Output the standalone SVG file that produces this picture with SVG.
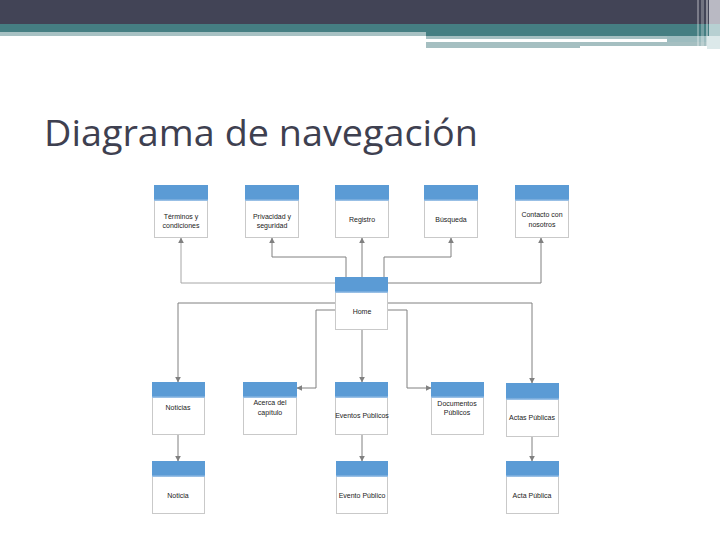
<svg xmlns="http://www.w3.org/2000/svg" width="720" height="540" viewBox="0 0 720 540">
<style>
.box{fill:#ffffff;stroke:#c9c9c9;stroke-width:1}
.hdr{fill:url(#hg)}
.lbl{font-family:"Liberation Sans",Arial,sans-serif;font-size:7px;fill:#222;text-anchor:middle}
.ln{fill:none;stroke:#808080;stroke-width:1}
.lt{stroke:#a6a6a6}
</style>
<defs>
<linearGradient id="hg" x1="0" y1="0" x2="0" y2="1">
<stop offset="0" stop-color="#5b9bd5"/>
<stop offset="0.85" stop-color="#5b9bd5"/>
<stop offset="1" stop-color="#a9c9ea"/>
</linearGradient>
<marker id="ah" viewBox="0 0 10 10" refX="9" refY="5" markerWidth="6" markerHeight="6" orient="auto" markerUnits="userSpaceOnUse">
<path d="M0,0 L10,5 L0,10 z" fill="#808080"/>
</marker>
</defs>
<rect width="720" height="540" fill="#ffffff"/>
<g id="header">
<rect x="0" y="0" width="720" height="24" fill="#424456"/>
<rect x="0" y="24" width="720" height="8" fill="#457e82"/>
<rect x="0" y="32" width="426" height="4" fill="#a7c1c3"/>
<rect x="426" y="32" width="294" height="4" fill="#457e82"/>
<rect x="426" y="36" width="241" height="3" fill="#a5bfc1"/>
<rect x="667" y="36" width="40" height="10" fill="#9dbcbf"/>
<rect x="426" y="42" width="154" height="6" fill="#a5bfc1"/>
<rect x="580" y="42" width="127" height="4" fill="#a5bfc1"/>
<rect x="697" y="0" width="2" height="46" fill="#ffffff" opacity="0.3"/>
<rect x="701" y="0" width="3" height="46" fill="#ffffff" opacity="0.25"/>
<rect x="706" y="0" width="2" height="46" fill="#ffffff" opacity="0.4"/>
<rect x="709" y="0" width="11" height="24" fill="#b9b9c3"/>
<rect x="709" y="24" width="11" height="12" fill="#b7d0d2"/>
<rect x="707" y="36" width="13" height="13" fill="#dce9ea"/>
</g>
<text x="44" y="146" font-family="'Open Sans','DejaVu Sans',sans-serif" font-size="36" fill="#3e4050" textLength="434" lengthAdjust="spacingAndGlyphs">Diagrama de navegación</text>
<g id="connectors">
<path class="ln lt" d="M336,283 H181 V238" marker-end="url(#ah)"/>
<path class="ln" d="M346,277 V257 H272 V238" marker-end="url(#ah)"/>
<path class="ln" d="M362,277 V238" marker-end="url(#ah)"/>
<path class="ln" d="M384,277 V257 H451 V238" marker-end="url(#ah)"/>
<path class="ln" d="M387,283 H541 V238" marker-end="url(#ah)"/>
<path class="ln" d="M336,303 H178 V382" marker-end="url(#ah)"/>
<path class="ln" d="M336,310 H316 V388 H297" marker-end="url(#ah)"/>
<path class="ln" d="M362,329 V382" marker-end="url(#ah)"/>
<path class="ln" d="M387,310 H407 V388 H431" marker-end="url(#ah)"/>
<path class="ln" d="M387,303 H532 V383" marker-end="url(#ah)"/>
<path class="ln" d="M178,434 V461" marker-end="url(#ah)"/>
<path class="ln" d="M362,434 V461" marker-end="url(#ah)"/>
<path class="ln" d="M532,437 V461" marker-end="url(#ah)"/>
</g>
<g id="n-terminos"><rect class="box" x="154.5" y="185.5" width="53" height="52"/><rect class="hdr" x="154" y="185" width="54" height="16"/><text class="lbl" x="181" y="219">Términos y</text><text class="lbl" x="181" y="228">condiciones</text></g>
<g id="n-privacidad"><rect class="box" x="245.5" y="185.5" width="53" height="52"/><rect class="hdr" x="245" y="185" width="54" height="16"/><text class="lbl" x="272" y="219">Privacidad y</text><text class="lbl" x="272" y="228">seguridad</text></g>
<g id="n-registro"><rect class="box" x="335.5" y="185.5" width="53" height="52"/><rect class="hdr" x="335" y="185" width="54" height="16"/><text class="lbl" x="362" y="222">Registro</text></g>
<g id="n-busqueda"><rect class="box" x="424.5" y="185.5" width="53" height="52"/><rect class="hdr" x="424" y="185" width="54" height="16"/><text class="lbl" x="451" y="222">Búsqueda</text></g>
<g id="n-contacto"><rect class="box" x="515.5" y="185.5" width="53" height="52"/><rect class="hdr" x="515" y="185" width="54" height="16"/><text class="lbl" x="542" y="217">Contacto con</text><text class="lbl" x="542" y="227">nosotros</text></g>
<g id="n-home"><rect class="box" x="335.5" y="277.5" width="52" height="52"/><rect class="hdr" x="335" y="277" width="53" height="16"/><text class="lbl" x="362" y="314">Home</text></g>
<g id="n-noticias"><rect class="box" x="152.5" y="382.5" width="52" height="52"/><rect class="hdr" x="152" y="382" width="53" height="16"/><text class="lbl" x="178" y="410">Noticias</text></g>
<g id="n-acerca"><rect class="box" x="243.5" y="382.5" width="53" height="52"/><rect class="hdr" x="243" y="382" width="54" height="16"/><text class="lbl" x="270" y="404.5">Acerca del</text><text class="lbl" x="270" y="414.5">capítulo</text></g>
<g id="n-eventos"><rect class="box" x="335.5" y="382.5" width="52" height="52"/><rect class="hdr" x="335" y="382" width="53" height="16"/><text class="lbl" x="362" y="418">Eventos Públicos</text></g>
<g id="n-documentos"><rect class="box" x="431.5" y="382.5" width="52" height="52"/><rect class="hdr" x="431" y="382" width="53" height="16"/><text class="lbl" x="457" y="405.5">Documentos</text><text class="lbl" x="457" y="414.5">Públicos</text></g>
<g id="n-actas"><rect class="box" x="506.5" y="383.5" width="52" height="53"/><rect class="hdr" x="506" y="383" width="53" height="17"/><text class="lbl" x="532" y="420">Actas Públicas</text></g>
<g id="n-noticia"><rect class="box" x="152.5" y="461.5" width="52" height="52"/><rect class="hdr" x="152" y="461" width="53" height="16"/><text class="lbl" x="178" y="498">Noticia</text></g>
<g id="n-evento"><rect class="box" x="336.5" y="461.5" width="51" height="52"/><rect class="hdr" x="336" y="461" width="52" height="16"/><text class="lbl" x="362" y="498">Evento Público</text></g>
<g id="n-acta"><rect class="box" x="506.5" y="461.5" width="52" height="52"/><rect class="hdr" x="506" y="461" width="53" height="16"/><text class="lbl" x="532" y="498">Acta Pública</text></g>
</svg>
